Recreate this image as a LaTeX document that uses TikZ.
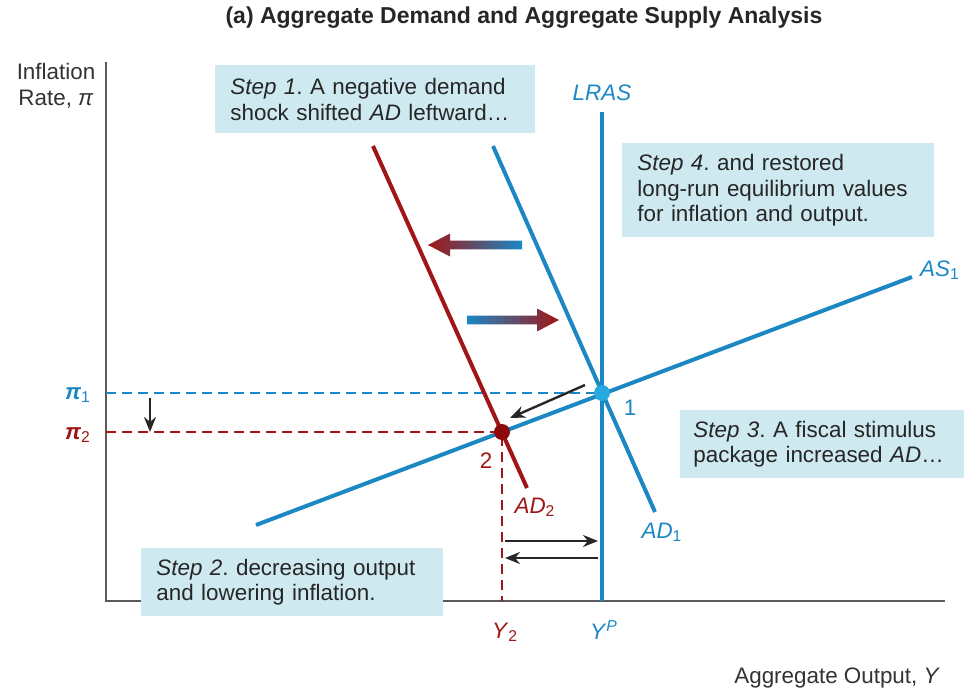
\documentclass[tikz,border=0pt]{standalone}
\usepackage{fontspec}
\setmainfont{Liberation Sans}
\usetikzlibrary{arrows.meta}
\definecolor{adblue}{RGB}{27,136,196}
\definecolor{adred}{RGB}{160,22,22}
\definecolor{dotblue}{RGB}{40,170,225}
\definecolor{dotred}{RGB}{140,10,10}
\definecolor{boxblue}{RGB}{206,233,240}
\definecolor{axisgray}{RGB}{90,90,90}
\frenchspacing

\begin{document}
\begin{tikzpicture}[x=0.5pt, y=-0.5pt, font=\fontsize{11.2}{12.8}\selectfont,
        curve/.style = {line width=2pt},
        guide/.style = {line width=0.8pt, dash pattern=on 5pt off 3pt},
        move/.style = {-{Stealth[length=7.5pt,width=6pt]}, line width=1.2pt, draw=black!85},
        eq/.style = {circle, inner sep=0pt, minimum size=8pt},
        stepbox/.style = {fill=boxblue, anchor=north west, align=left, inner xsep=7.5pt, text=black!85, minimum height=34pt}]
    \useasboundingbox (0,0) rectangle (965,691);
    \node[font=\bfseries\fontsize{11.5}{13}\selectfont, text=black!85] (title) at (524,18) {(a) Aggregate Demand and Aggregate Supply Analysis};
    \coordinate (ytop) at (106,62);
    \coordinate (o) at (106,601);
    \coordinate (xend) at (945,601);
    \draw[axisgray, line width=0.8pt] (ytop) -- (o) -- (xend);
    \node[align=center, text=black!80] (ylab) at (56,86) {Inflation\\Rate, \textit{π}};
    \node[anchor=east, text=black!80] (xlab) at (947,678) {Aggregate Output, \textit{Y}};

    \node[stepbox, text width=145pt] (step1) at (215,65) {{\itshape Step 1}. A negative demand\\shock shifted {\itshape AD} leftward…};
    \node[stepbox, text width=141pt, minimum height=47pt] (step4) at (622,143) {{\itshape Step 4}. and restored\\long-run equilibrium values\\for inflation and output.};
    \node[stepbox, text width=129pt, inner xsep=6.5pt] (step3) at (680,410) {{\itshape Step 3}. A fiscal stimulus\\package increased {\itshape AD}…};
    \node[stepbox, text width=136pt] (step2) at (141,548) {{\itshape Step 2}. decreasing output\\and lowering inflation.};

    \coordinate (p1) at (602,393);
    \coordinate (p2) at (502,432);
    \coordinate (pi1) at (106,393);
    \coordinate (pi2) at (106,432);
    \coordinate (y2) at (502,601);
    \coordinate (yp) at (602,601);
    \coordinate (lrtop) at (602,112);
    \coordinate (ad1top) at (493,146);
    \coordinate (ad1bot) at (655,512);
    \coordinate (ad2top) at (373,146);
    \coordinate (ad2bot) at (527,488);
    \coordinate (aslo) at (256,525);
    \coordinate (ashi) at (912,277);

    \draw[guide, adblue] (pi1) -- (p1);
    \draw[guide, adred] (pi2) -- (p2) -- (y2);
    \draw[curve, adblue] (lrtop) -- (yp);
    \draw[curve, adblue] (ad1top) -- (ad1bot);
    \draw[curve, adred] (ad2top) -- (ad2bot);
    \draw[curve, adblue] (aslo) -- (ashi);
    \node[eq, fill=dotblue] (e1) at (p1) {};
    \node[eq, fill=dotred] (e2) at (p2) {};

    \coordinate (tipL) at (428,245);
    \coordinate (tipR) at (559,320);
    \shade[left color=adred, right color=adblue] (tipL) -- ++(22,-11.5) -- ++(0,7.2) -- ++(72,0) -- ++(0,8.6) -- ++(-72,0) -- ++(0,7.2) -- cycle;
    \shade[left color=adblue, right color=adred] (tipR) -- ++(-22,-11.5) -- ++(0,7.2) -- ++(-70,0) -- ++(0,8.6) -- ++(70,0) -- ++(0,7.2) -- cycle;

    \coordinate (dropa) at (150,398);
    \coordinate (dropb) at (150,432);
    \draw[move] (dropa) -- (dropb);
    \coordinate (slidea) at (585,385);
    \coordinate (slideb) at (510,418);
    \draw[move] (slidea) -- (slideb);
    \coordinate (outa) at (505,541);
    \coordinate (outb) at (598,541);
    \coordinate (backa) at (598,558);
    \coordinate (backb) at (505,558);
    \draw[move] (outa) -- (outb);
    \draw[move] (backa) -- (backb);

    \node[text=adblue] (lras) at (602,93) {\textit{LRAS}};
    \node[text=adblue] (ad1) at (662,532) {\textit{AD}\textsubscript{1}};
    \node[text=adred] (ad2) at (535,507) {\textit{AD}\textsubscript{2}};
    \node[text=adblue] (as1) at (940,270) {\textit{AS}\textsubscript{1}};
    \node[text=adblue] (n1) at (630,408) {1};
    \node[text=adred] (n2) at (486,461) {2};
    \node[text=adblue, anchor=east] (pilab1) at (98,395) {\textbf{\textit{π}}\textsubscript{1}};
    \node[text=adred, anchor=east] (pilab2) at (98,435) {\textbf{\textit{π}}\textsubscript{2}};
    \node[text=adred] (y2lab) at (505,632) {\textit{Y}\textsubscript{2}};
    \node[text=adblue] (yplab) at (604,630) {\textit{Y}\textsuperscript{\textit{P}}};
\end{tikzpicture}
\end{document}
